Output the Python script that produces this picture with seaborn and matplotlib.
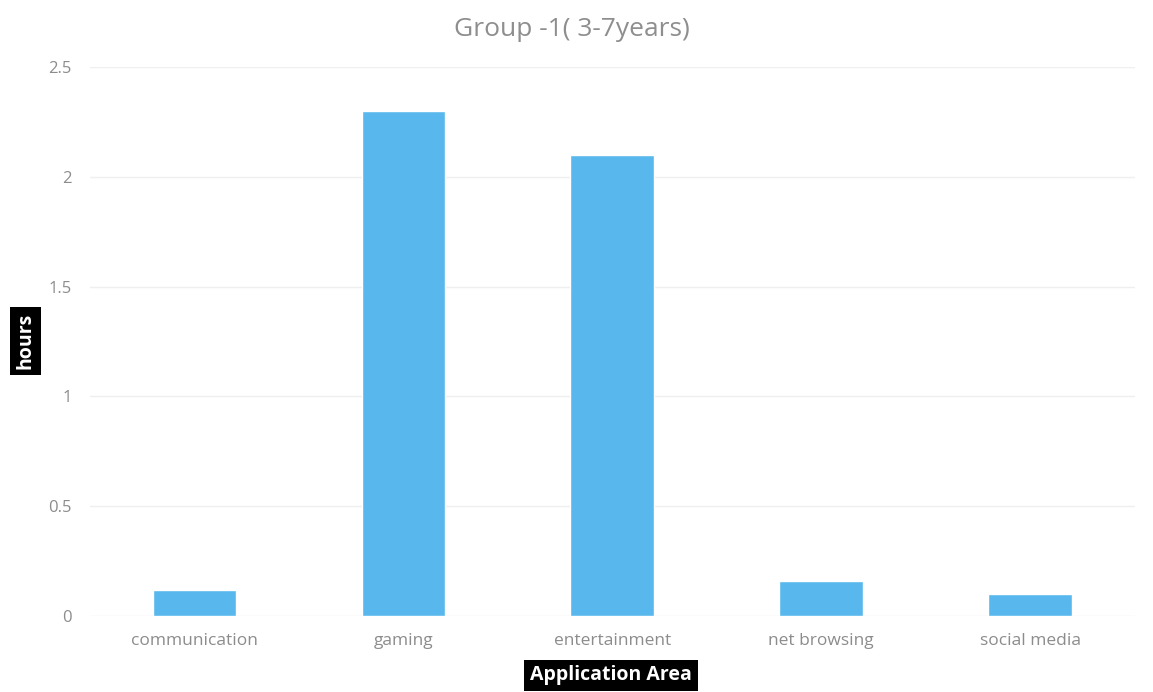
import matplotlib
matplotlib.use("Agg")
import matplotlib.pyplot as plt
import seaborn as sns
import pandas as pd

categories = ["communication", "gaming", "entertainment", "net browsing", "social media"]
hours = [0.12, 2.30, 2.10, 0.16, 0.10]
y_ticks = [0, 0.5, 1, 1.5, 2, 2.5]
y_tick_labels = ["0", "0.5", "1", "1.5", "2", "2.5"]

sns.set_theme(style="white")
plt.rcParams["font.family"] = ["Open Sans", "DejaVu Sans"]

df = pd.DataFrame({"area": categories, "hours": hours})

fig = plt.figure(figsize=(11.53, 6.92), dpi=100)
ax = fig.add_axes([0.078, 0.110, 0.906, 0.793])

sns.barplot(data=df, x="area", y="hours", color="#58B7EC", width=0.4,
            saturation=1, ax=ax, zorder=3)

ax.set_ylim(0, 2.5)
ax.set_xlim(-0.5, len(categories) - 0.5)
ax.set_yticks(y_ticks)
ax.set_yticklabels(y_tick_labels)
ax.yaxis.grid(True, color="#efefef", linewidth=1)
ax.set_axisbelow(True)
for s in ax.spines.values():
    s.set_visible(False)
ax.tick_params(axis="y", length=0, pad=13, labelsize=12, labelcolor="#8c8c8c")
ax.tick_params(axis="x", length=0, pad=12, labelsize=12.5, labelcolor="#8c8c8c")

ax.set_xlabel("")
ax.set_ylabel("")

# chart title, centred on the figure
fig.text(0.496, 0.957, "Group -1( 3-7years)", ha="center", va="center",
         fontsize=19, color="#8e8e8e")

fig.text(0.530, 0.024, "Application Area", ha="center", va="center",
         fontsize=14, fontweight="bold", color="white",
         bbox=dict(boxstyle="square,pad=0.3", facecolor="black", edgecolor="none"))
fig.text(0.022, 0.507, "hours", ha="center", va="center", rotation=90,
         fontsize=14, fontweight="bold", color="white",
         bbox=dict(boxstyle="square,pad=0.3", facecolor="black", edgecolor="none"))

fig.savefig("out.png", dpi=100, facecolor="white")
